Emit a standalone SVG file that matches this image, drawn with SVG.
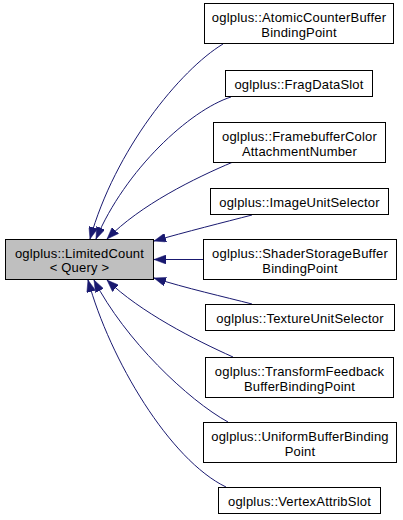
<svg xmlns="http://www.w3.org/2000/svg" width="403" height="520" viewBox="0 0 403 520">
<style>
.box{fill:#ffffff;stroke:#000000;stroke-width:1}
.main{fill:#bfbfbf;stroke:#000000;stroke-width:1}
.lbl{font-family:"Liberation Sans",Arial,sans-serif;font-size:13px;letter-spacing:0.2px;fill:#000000;text-anchor:middle}
.edge{fill:none;stroke:#191970;stroke-width:1;marker-end:url(#ah)}
</style>
<defs>
<marker id="ah" viewBox="0 0 12 9" markerWidth="12" markerHeight="9" markerUnits="userSpaceOnUse" refX="12" refY="4.5" orient="auto">
<path d="M0,0 L12,4.5 L0,9 Z" fill="#191970" stroke="#191970" stroke-width="0.5"/>
</marker>
</defs>
<rect width="403" height="520" fill="#ffffff"/>
<g id="edges">
<path class="edge" d="M223,44 C180,70 115,150 90,239"/>
<path class="edge" d="M231,97 C190,110 125,170 96,239"/>
<path class="edge" d="M233,162 C195,178 140,205 107,239"/>
<path class="edge" d="M252,215 C225,222 185,232 154,241"/>
<path class="edge" d="M203,259.5 L154,259.5"/>
<path class="edge" d="M252,304 C225,297 185,288 154,278"/>
<path class="edge" d="M233,357 C195,340 140,312 107,280"/>
<path class="edge" d="M228,422 C188,400 125,340 94,280"/>
<path class="edge" d="M226,487 C170,460 110,360 88,280"/>
</g>
<g id="node-main">
<rect class="main" x="5.5" y="239.5" width="148" height="40"/>
<text class="lbl" x="79.5" y="257.5">oglplus::LimitedCount</text>
<text class="lbl" x="79.5" y="271.5">&lt; Query &gt;</text>
</g>
<g id="node-atomic">
<rect class="box" x="204.5" y="3.5" width="189" height="40"/>
<text class="lbl" x="299" y="22">oglplus::AtomicCounterBuffer</text>
<text class="lbl" x="299" y="36.5">BindingPoint</text>
</g>
<g id="node-fragdata">
<rect class="box" x="225.5" y="70.5" width="147" height="26"/>
<text class="lbl" x="299" y="88.5">oglplus::FragDataSlot</text>
</g>
<g id="node-framebuffer">
<rect class="box" x="213.5" y="122.5" width="172" height="40"/>
<text class="lbl" x="299.5" y="141">oglplus::FramebufferColor</text>
<text class="lbl" x="299.5" y="155.5">AttachmentNumber</text>
</g>
<g id="node-imageunit">
<rect class="box" x="210.5" y="188.5" width="178" height="26"/>
<text class="lbl" x="299.5" y="206.5">oglplus::ImageUnitSelector</text>
</g>
<g id="node-shaderstorage">
<rect class="box" x="203.5" y="239.5" width="193" height="40"/>
<text class="lbl" x="300" y="258">oglplus::ShaderStorageBuffer</text>
<text class="lbl" x="300" y="272.5">BindingPoint</text>
</g>
<g id="node-textureunit">
<rect class="box" x="205.5" y="304.5" width="189" height="26"/>
<text class="lbl" x="300" y="322.5">oglplus::TextureUnitSelector</text>
</g>
<g id="node-transformfeedback">
<rect class="box" x="205.5" y="357.5" width="188" height="40"/>
<text class="lbl" x="299.5" y="376">oglplus::TransformFeedback</text>
<text class="lbl" x="299.5" y="390.5">BufferBindingPoint</text>
</g>
<g id="node-uniformbuffer">
<rect class="box" x="203.5" y="422.5" width="193" height="40"/>
<text class="lbl" x="300" y="441">oglplus::UniformBufferBinding</text>
<text class="lbl" x="300" y="455.5">Point</text>
</g>
<g id="node-vertexattrib">
<rect class="box" x="218.5" y="487.5" width="162" height="26"/>
<text class="lbl" x="299.5" y="505.5">oglplus::VertexAttribSlot</text>
</g>
</svg>
